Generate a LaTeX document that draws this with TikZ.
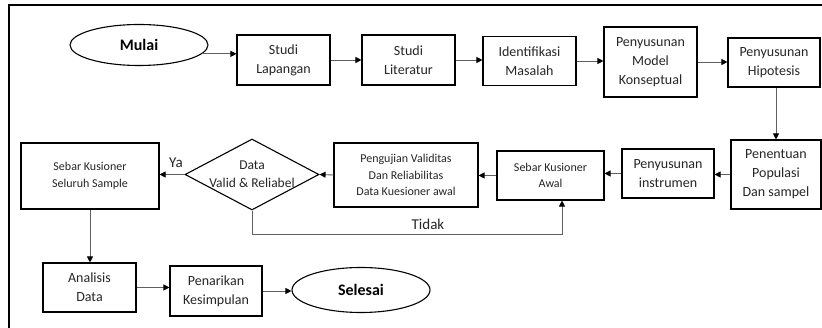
\documentclass[tikz,border=0pt]{standalone}
\usepackage{fontspec}
\setmainfont{Carlito}
\usetikzlibrary{shapes.geometric,arrows.meta}
\begin{document}
\begin{tikzpicture}[x=1pt,y=-1pt,
 box/.style={draw=black, line width=1.1pt, inner sep=0, align=center, text=black!85, font=\fontsize{14}{19}\selectfont},
 sbox/.style={box, font=\fontsize{12}{16.5}\selectfont},
 term/.style={ellipse, draw=black, line width=1.1pt, inner sep=0, font=\bfseries\fontsize{16}{19}\selectfont},
 conn/.style={draw=gray!75!black, line width=0.9pt, -{Triangle[length=6pt,width=6pt,color=black]}},
 lbl/.style={font=\fontsize{15}{18}\selectfont, text=black!85},
]
\useasboundingbox (0,0) rectangle (822,328);
\fill[white] (0,0) rectangle (822,328);
\draw[line width=2pt] (822,5) -- (9,5) -- (9,328);

\node[term, minimum width=138, minimum height=41] (mulai) at (139,45) {Mulai};
\node[box, minimum width=93, minimum height=50] (sl) at (283.5,60) {Studi\\Lapangan};
\node[box, minimum width=93, minimum height=50] (slit) at (408.5,60) {Studi\\Literatur};
\node[box, minimum width=93, minimum height=49] (im) at (529.5,61) {Identifikasi\\Masalah};
\node[box, minimum width=93, minimum height=70] (pmk) at (650.5,62) {Penyusunan\\Model\\Konseptual};
\node[box, minimum width=92, minimum height=49] (ph) at (774,62.5) {Penyusunan\\Hipotesis};
\node[box, minimum width=90, minimum height=69] (pp) at (776,174.5) {Penentuan\\Populasi\\Dan sampel};
\node[box, minimum width=92, minimum height=49] (pi) at (668,173.5) {Penyusunan\\instrumen};
\node[sbox, minimum width=107, minimum height=49] (ska) at (550.5,175.5) {Sebar Kusioner\\Awal};
\node[sbox, minimum width=144, minimum height=64] (puv) at (406,175) {Pengujian Validitas\\Dan Reliabilitas\\Data Kuesioner awal};
\node[diamond, draw=black, line width=1.1pt, minimum width=134, minimum height=71, inner sep=0] (dec) at (252,174.5) {};
\node[align=center, inner sep=0, text=black!85, font=\fontsize{13.5}{18}\selectfont] (dectext) at (dec.center) {Data\\Valid \& Reliabel};
\node[sbox, minimum width=138, minimum height=66] (sks) at (90,176) {Sebar Kusioner\\Seluruh Sample};
\node[box, minimum width=93, minimum height=49] (ad) at (89.5,287.5) {Analisis\\Data};
\node[box, minimum width=92, minimum height=50] (pk) at (216,291) {Penarikan\\Kesimpulan};
\node[term, minimum width=138, minimum height=45] (sel) at (361,290) {Selesai};

\draw[conn] (mulai.-8) -- (mulai.-8 -| sl.west);
\draw[conn] (sl.east) -- (sl.east -| slit.west);
\draw[conn] (slit.east) -- (slit.east -| im.west);
\draw[conn] (im.east) -- (im.east -| pmk.west);
\draw[conn] (pmk.east) -- (pmk.east -| ph.west);
\draw[conn] (ph.south -| pp.north) -- (pp.north);
\draw[conn] (pp.west) -- (pp.west -| pi.east);
\draw[conn] (pi.west) -- (pi.west -| ska.east);
\draw[conn] (ska.west) -- (ska.west -| puv.east);
\draw[conn] (puv.west) -- (dec.east);
\draw[conn] (dec.west) -- (dec.west -| sks.east);
\node[lbl] (ya) at (176,163) {Ya};
\draw[conn] (sks.south) -- (sks.south |- ad.north);
\draw[conn] (ad.east) -- (ad.east -| pk.west);
\draw[conn] (pk.east) -- (pk.east -| sel.west);
\coordinate (tb) at (562,234);
\draw[conn] (dec.south) |- (tb) -- (tb |- ska.south);
\node[lbl] (tidak) at (428,224) {Tidak};
\end{tikzpicture}
\end{document}
